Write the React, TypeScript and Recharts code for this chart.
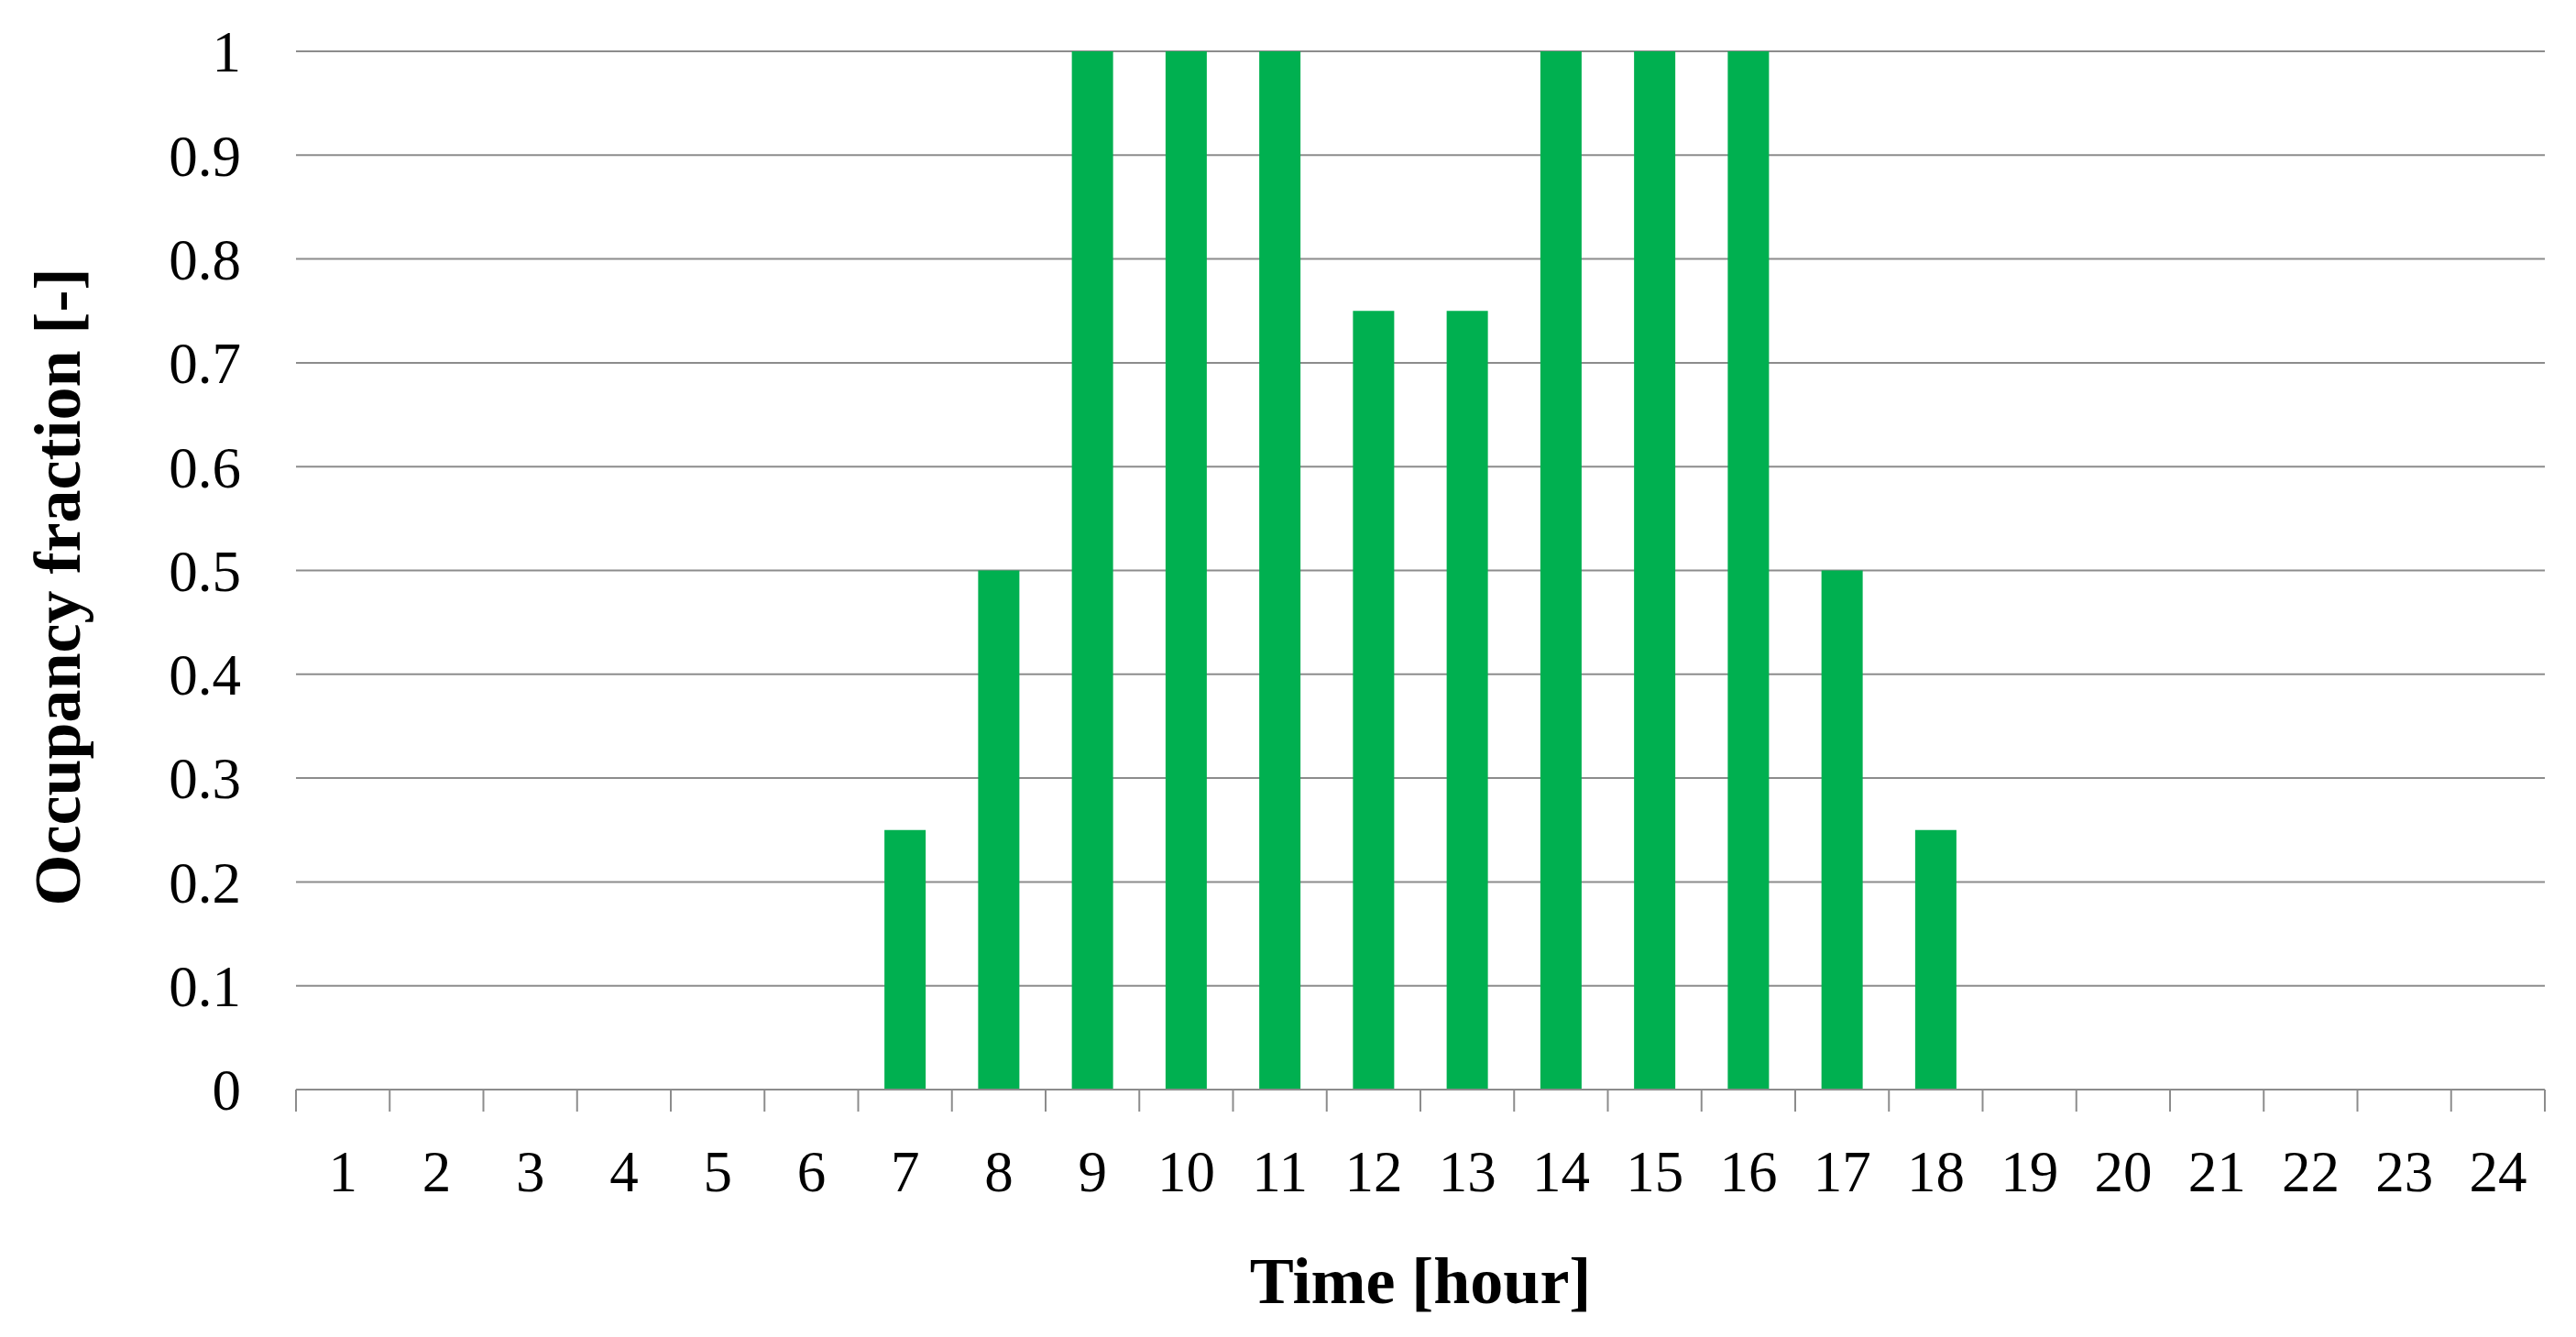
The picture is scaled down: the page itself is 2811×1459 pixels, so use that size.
import { Bar, BarChart, CartesianGrid, XAxis, YAxis } from "recharts";

const hours = ["1", "2", "3", "4", "5", "6", "7", "8", "9", "10", "11", "12", "13", "14", "15", "16", "17", "18", "19", "20", "21", "22", "23", "24"];
const occupancy = [0, 0, 0, 0, 0, 0, 0.25, 0.5, 1, 1, 1, 0.75, 0.75, 1, 1, 1, 0.5, 0.25, 0, 0, 0, 0, 0, 0];
const yTicks = [0, 0.1, 0.2, 0.3, 0.4, 0.5, 0.6, 0.7, 0.8, 0.9, 1];

const data = hours.map((hour, i) => ({ hour, occupancy: occupancy[i] }));

const font = "'Liberation Serif', 'Times New Roman', serif";
const gray = "#8c8c8c";
const labelGap = 66;
const tickLen = 24;

// excel-style ticks sit on the category edges, labels in the middle
function HourTick({ x, y, payload, index, width }: any) {
  const half = payload?.offset || width / hours.length / 2;
  const axisY = y - labelGap;
  const last = index === hours.length - 1;
  return (
    <g>
      <line x1={x - half} x2={x - half} y1={axisY} y2={axisY + tickLen} stroke={gray} strokeWidth={2} />
      {last && <line x1={x + half} x2={x + half} y1={axisY} y2={axisY + tickLen} stroke={gray} strokeWidth={2} />}
      <text x={x} y={y} dy="0.71em" textAnchor="middle" fill="#000" fontSize={63} fontFamily={font}>
        {payload.value}
      </text>
    </g>
  );
}

function YTitle({ viewBox }: any) {
  const x = viewBox.x + 63;
  const y = viewBox.y + viewBox.height / 2 + 18;
  return (
    <text
      x={x}
      y={y}
      transform={`rotate(-90, ${x}, ${y})`}
      textAnchor="middle"
      dominantBaseline="central"
      fontFamily={font}
      fontWeight="bold"
      fontSize={72}
      fill="#000"
    >
      Occupancy fraction [-]
    </text>
  );
}

export default function App() {
  return (
    <div style={{ position: "absolute", left: 0, top: 0, background: "#fff" }}>
      <BarChart
        width={2811}
        height={1459}
        data={data}
        margin={{ top: 56, right: 34, bottom: 0, left: 0 }}
        barCategoryGap="28%"
        style={{ fontFamily: font }}
      >
        <CartesianGrid vertical={false} stroke={gray} strokeWidth={2} />
        <XAxis
          dataKey="hour"
          height={270}
          axisLine={{ stroke: gray, strokeWidth: 2 }}
          tickLine={false}
          tickSize={0}
          tickMargin={labelGap}
          interval={0}
          tick={<HourTick />}
          label={{
            value: "Time [hour]",
            position: "insideBottom",
            offset: 37,
            fill: "#000",
            fontSize: 72,
            fontWeight: "bold",
            fontFamily: font
          }}
        />
        <YAxis
          width={323}
          domain={[0, 1]}
          ticks={yTicks}
          interval={0}
          axisLine={false}
          tickLine={false}
          tickMargin={54}
          tick={{ fill: "#000", fontSize: 63, fontFamily: font }}
          label={<YTitle />}
        />
        <Bar dataKey="occupancy" fill="#00b050" isAnimationActive={false} />
      </BarChart>
    </div>
  );
}
